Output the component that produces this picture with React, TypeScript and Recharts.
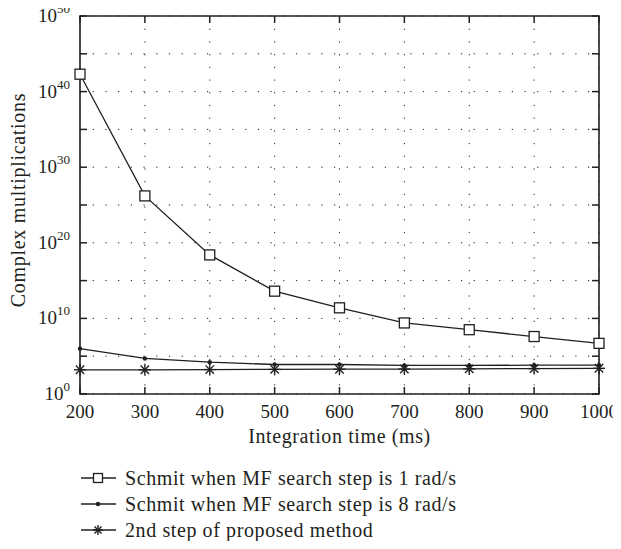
import { LineChart, Line, XAxis, YAxis, CartesianGrid, ReferenceArea } from 'recharts';

// integration time (ms)
const times = [200, 300, 400, 500, 600, 700, 800, 900, 1000];
// complex multiplications
const schmit1 = [2e42, 1.6e26, 2.5e18, 4e13, 2.5e11, 2.5e9, 3.2e8, 4e7, 5e6];
const schmit8 = [1e6, 5e4, 1.6e4, 8e3, 8e3, 6e3, 6e3, 6.5e3, 6.5e3];
const proposed = [1.6e3, 1.6e3, 1.7e3, 1.8e3, 1.9e3, 2e3, 2.1e3, 2.3e3, 2.5e3];

const xTicks = [200, 300, 400, 500, 600, 700, 800, 900, 1000];
const yTicks = [1, 1e5, 1e10, 1e15, 1e20, 1e25, 1e30, 1e35, 1e40, 1e45, 1e50];

const legendNames = [
  'Schmit when MF search step is 1 rad/s',
  'Schmit when MF search step is 8 rad/s',
  '2nd step of proposed method',
];

const data = times.map((t, i) => ({
  time: t,
  s1: schmit1[i],
  s2: schmit8[i],
  s3: proposed[i],
}));

const FONT = '"Liberation Serif", serif';
const INK = '#231f20';
const W = 621;
const H = 458;
// plot box, page pixels (wrapper cancels the body margin)
const PL = 80;
const PR = 599;
const PT = 16;
const PB = 394;

const Square = ({ cx, cy, size = 10 }: any) => (
  <rect x={cx - size / 2} y={cy - size / 2} width={size} height={size} fill="#fff" stroke={INK} strokeWidth={1.3} />
);

const Dot = ({ cx, cy }: any) => <circle cx={cx} cy={cy} r={2.2} fill={INK} />;

const Star = ({ cx, cy, r = 6 }: any) => (
  <g stroke={INK} strokeWidth={1.4}>
    <line x1={cx - r} y1={cy} x2={cx + r} y2={cy} />
    <line x1={cx} y1={cy - r} x2={cx} y2={cy + r} />
    <line x1={cx - r * 0.7} y1={cy - r * 0.7} x2={cx + r * 0.7} y2={cy + r * 0.7} />
    <line x1={cx - r * 0.7} y1={cy + r * 0.7} x2={cx + r * 0.7} y2={cy - r * 0.7} />
  </g>
);

const YTick = ({ y, payload }: any) => {
  const exp = Math.round(Math.log10(payload.value));
  return (
    <g>
      <line x1={PL} x2={PL + 7} y1={y} y2={y} stroke={INK} strokeWidth={1.5} />
      <line x1={PR - 7} x2={PR} y1={y} y2={y} stroke={INK} strokeWidth={1.5} />
      {exp % 10 === 0 && (
        <text x={PL - 10} y={y + 6} textAnchor="end" fontFamily={FONT} fontSize={19} fill={INK}>
          10<tspan dy={-9} fontSize={13}>{exp}</tspan>
        </text>
      )}
    </g>
  );
};

const XTick = ({ x, payload }: any) => (
  <g>
    <line x1={x} x2={x} y1={PB} y2={PB - 7} stroke={INK} strokeWidth={1.5} />
    <line x1={x} x2={x} y1={PT} y2={PT + 7} stroke={INK} strokeWidth={1.5} />
    <text x={x} y={PB + 24} textAnchor="middle" fontFamily={FONT} fontSize={19} fill={INK}>
      {payload.value}
    </text>
  </g>
);

const YLabel = () => (
  <text
    x={0}
    y={0}
    transform={`translate(${18}, ${(PT + PB) / 2 - 5}) rotate(-90)`}
    textAnchor="middle"
    dominantBaseline="central"
    fontFamily={FONT}
    fontSize={20}
    letterSpacing={0.7}
    fill={INK}
  >
    Complex multiplications
  </text>
);

const legendMarkers = [
  <Square cx={18} cy={7} size={9} />,
  <Dot cx={18} cy={7} />,
  <Star cx={18} cy={7} r={5} />,
];

export default function App() {
  return (
    <div style={{ position: 'relative', width: W, height: 549, margin: -8 }}>
      <style>{'.recharts-wrapper, .recharts-surface { overflow: visible !important; }'}</style>
      <LineChart width={W} height={H} data={data} margin={{ top: PT, right: W - PR, left: 0, bottom: 0 }}>
        <CartesianGrid stroke={INK} strokeDasharray="1.2 11.5" strokeWidth={1} />
        <XAxis
          dataKey="time"
          type="number"
          domain={[200, 1000]}
          ticks={xTicks}
          height={H - PB}
          axisLine={false}
          tickLine={false}
          tick={<XTick />}
          interval={0}
          label={{
            value: 'Integration time (ms)',
            position: 'insideBottom',
            offset: 15,
            fontFamily: FONT,
            fontSize: 20,
            letterSpacing: 0.6,
            fill: INK,
          }}
        />
        <YAxis
          scale="log"
          domain={[1, 1e50]}
          ticks={yTicks}
          width={PL}
          axisLine={false}
          tickLine={false}
          tick={<YTick />}
          interval={0}
          allowDataOverflow
          label={<YLabel />}
        />
        <ReferenceArea x1={200} x2={1000} y1={1} y2={1e50} fill="none" stroke={INK} strokeWidth={1.6} ifOverflow="visible" />
        <Line
          dataKey="s1"
          stroke={INK}
          strokeWidth={1.3}
          isAnimationActive={false}
          dot={(p: any) => <Square key={`s1-${p.index}`} cx={p.cx} cy={p.cy} />}
        />
        <Line
          dataKey="s2"
          stroke={INK}
          strokeWidth={1.3}
          isAnimationActive={false}
          dot={(p: any) => <Dot key={`s2-${p.index}`} cx={p.cx} cy={p.cy} />}
        />
        <Line
          dataKey="s3"
          stroke={INK}
          strokeWidth={1.3}
          isAnimationActive={false}
          dot={(p: any) => <Star key={`s3-${p.index}`} cx={p.cx} cy={p.cy} />}
        />
      </LineChart>
      <div style={{ position: 'absolute', left: 80, top: 465, fontFamily: FONT, fontSize: 20, letterSpacing: 0.6, color: INK }}>
        {legendNames.map((name, i) => (
          <div key={name} style={{ display: 'flex', alignItems: 'center', height: 26 }}>
            <svg width={36} height={14} style={{ marginRight: 9 }}>
              <line x1={1} x2={36} y1={7} y2={7} stroke={INK} strokeWidth={1.6} />
              {legendMarkers[i]}
            </svg>
            <span>{name}</span>
          </div>
        ))}
      </div>
    </div>
  );
}
